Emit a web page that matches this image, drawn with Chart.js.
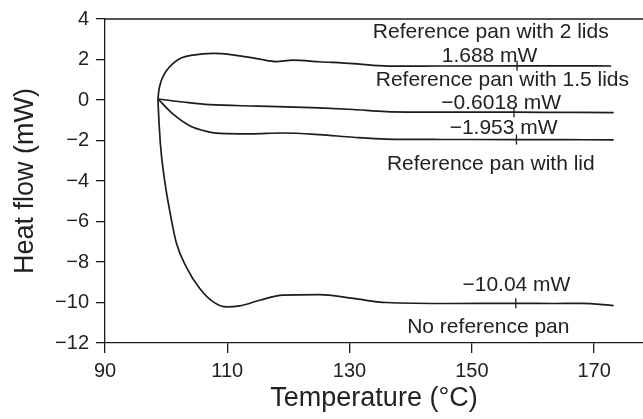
<!DOCTYPE html>
<html>
<head>
<meta charset="utf-8">
<script src="https://cdn.jsdelivr.net/npm/chart.js@4.4.0/dist/chart.umd.min.js"></script>
<style>
  html, body { margin: 0; padding: 0; background: #fff; }
  #wrap { position: relative; width: 643px; height: 419px; }
</style>
</head>
<body>
<div id="wrap"><canvas id="dsc"></canvas></div>
<script>
// DSC baselines: temperature (°C) vs heat flow (mW)
const twoLidT  = [98.67, 98.8, 99.2, 99.9, 101.1, 102.3, 104.4, 107.7, 110.9, 115.3, 118.0, 120.7, 125.1, 130.6, 133.8, 137.1, 145, 157.4, 165, 172.8];
const twoLidHF = [0.05, 0.45, 0.95, 1.38, 1.80, 2.05, 2.22, 2.30, 2.23, 2.02, 1.90, 1.97, 1.89, 1.80, 1.71, 1.67, 1.68, 1.688, 1.69, 1.68];

const halfLidT  = [98.67, 102.8, 107.1, 115, 125.1, 130.6, 136.0, 145, 156.9, 165, 173.2];
const halfLidHF = [0.05, -0.10, -0.23, -0.30, -0.39, -0.47, -0.57, -0.60, -0.6018, -0.61, -0.62];

const lidT  = [98.67, 101.1, 103.85, 106.6, 108.8, 113.7, 119.1, 125.1, 130.6, 136.0, 145, 157.3, 165, 173.2];
const lidHF = [0.05, -0.69, -1.27, -1.55, -1.65, -1.67, -1.63, -1.71, -1.84, -1.93, -1.95, -1.953, -1.96, -1.97];

const noPanT  = [98.67, 98.7, 99.06, 99.76, 100.58, 101.7, 103.3, 105.5, 107.7, 109.9, 112.0, 115.3, 119.1, 125.1, 130.6, 136.0, 146.9, 157.2, 163.3, 168, 173.2];
const noPanHF = [0.05, -0.25, -2.17, -3.98, -5.46, -7.09, -8.25, -9.31, -9.97, -10.22, -10.17, -9.89, -9.64, -9.61, -9.80, -10.00, -10.05, -10.04, -10.05, -10.04, -10.15];

// read-off markers on each curve
const markT  = [157.4, 156.9, 157.3, 157.2];
const markHF = [1.688, -0.6018, -1.953, -10.04];

// text notes, anchored in data units (°C, mW)
const noteText = ['Reference pan with 2 lids', '1.688 mW', 'Reference pan with 1.5 lids', '\u22120.6018 mW',
                  '\u22121.953 mW', 'Reference pan with lid', '\u221210.04 mW', 'No reference pan'];
const noteT  = [153.1, 152.9, 155.0, 154.8, 155.2, 153.1, 157.3, 152.7];
const noteHF = [3.36, 2.18, 1.0, -0.17, -1.40, -3.19, -9.15, -11.2];

const xTicks = [90, 110, 130, 150, 170];

const INK = '#1c1c1c';
const FONT = '"Liberation Sans", Arial, Helvetica, sans-serif';
Chart.defaults.font.family = FONT;
Chart.defaults.color = '#222';

const toPts = (xs, ys) => xs.map((x, i) => ({ x: x, y: ys[i] }));

function curve(xs, ys) {
  return {
    type: 'line',
    data: toPts(xs, ys),
    borderColor: INK,
    borderWidth: 1.7,
    pointRadius: 0,
    fill: false,
    cubicInterpolationMode: 'monotone'
  };
}

// frame line along the top of the plot area, plus the text notes
const extras = {
  id: 'extras',
  afterDatasetsDraw(chart) {
    const { ctx, chartArea, scales } = chart;
    ctx.save();
    ctx.strokeStyle = INK;
    ctx.lineWidth = 1.3;
    ctx.beginPath();
    ctx.moveTo(chartArea.left, chartArea.top);
    ctx.lineTo(chartArea.right, chartArea.top);
    ctx.stroke();

    ctx.fillStyle = '#222';
    ctx.font = '21px ' + FONT;
    ctx.textAlign = 'center';
    ctx.textBaseline = 'middle';
    noteText.forEach((t, i) => {
      ctx.fillText(t, scales.x.getPixelForValue(noteT[i]), scales.y.getPixelForValue(noteHF[i]));
    });
    ctx.restore();
  }
};

new Chart(document.getElementById('dsc'), {
  type: 'line',
  data: {
    datasets: [
      curve(twoLidT, twoLidHF),
      curve(halfLidT, halfLidHF),
      curve(lidT, lidHF),
      curve(noPanT, noPanHF),
      {
        type: 'scatter',
        data: toPts(markT, markHF),
        pointStyle: 'line',
        rotation: 90,
        pointRadius: 5,
        borderColor: INK,
        borderWidth: 1.3
      }
    ]
  },
  options: {
    responsive: true,
    maintainAspectRatio: false,
    animation: false,
    // axes run right up to the canvas edge
    layout: { autoPadding: false, padding: { top: 18, right: 0, left: 0, bottom: 0 } },
    plugins: {
      legend: { display: false },
      tooltip: { enabled: false }
    },
    scales: {
      x: {
        type: 'linear',
        min: 90,
        max: 178,
        afterBuildTicks: (scale) => { scale.ticks = xTicks.map(v => ({ value: v })); },
        afterFit: (scale) => {
          scale.height = 76;
          scale.paddingLeft = 0;
          scale.paddingRight = 0;
        },
        grid: { drawOnChartArea: false, drawTicks: true, tickLength: 10, color: INK, lineWidth: 1.3 },
        border: { color: INK, width: 1.3 },
        ticks: { font: { size: 20 }, color: '#222', padding: 6, maxRotation: 0 },
        title: { display: true, text: 'Temperature (\u00B0C)', font: { size: 27 }, color: '#222', padding: { top: 0, bottom: 4 } }
      },
      y: {
        min: -12,
        max: 4,
        afterFit: (scale) => { scale.width = 105; },
        grid: { drawOnChartArea: false, drawTicks: true, tickLength: 9, color: INK, lineWidth: 1.3 },
        border: { color: INK, width: 1.3 },
        ticks: {
          stepSize: 2,
          font: { size: 20 },
          color: '#222',
          padding: 7,
          callback: (v) => String(v).replace('-', '\u2212')
        },
        title: { display: true, text: 'Heat flow (mW)', font: { size: 27 }, color: '#222', padding: { top: 9, bottom: 0 } }
      }
    }
  },
  plugins: [extras]
});
</script>
</body>
</html>
